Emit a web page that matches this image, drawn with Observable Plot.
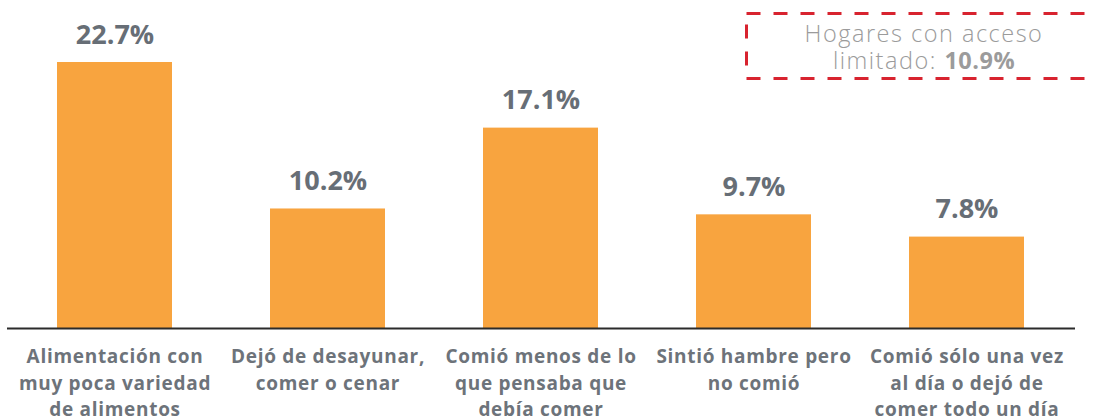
<!DOCTYPE html>
<html><head><meta charset="utf-8">
<script src="https://cdn.jsdelivr.net/npm/d3@7"></script>
<script src="https://cdn.jsdelivr.net/npm/@observablehq/plot@0.6"></script>
<style>
body{margin:0;background:#fff;}
#wrap{position:relative;width:1096px;height:419px;overflow:hidden;font-family:"Open Sans",sans-serif;}
#note{position:absolute;left:745px;top:12px;width:400px;height:68px;}
#note svg{position:absolute;left:0;top:0;}
#note .t{position:absolute;left:0;top:8px;width:358px;text-align:center;color:#9b9b9b;font-size:23.5px;line-height:27px;font-weight:300;letter-spacing:1.5px;}
#note .t b{font-weight:700;letter-spacing:0.5px;}
#wrap svg g[aria-label="x-axis tick label"] text{letter-spacing:0.7px;}
</style></head>
<body><div id="wrap"><div id="note"><svg width="400" height="68"><rect x="1.5" y="1.5" width="420" height="65" fill="none" stroke="#d8232f" stroke-width="3" stroke-dasharray="14 13"/></svg><div class="t"></div></div></div>
<script>
const categories = [
  "Alimentación con\nmuy poca variedad\nde alimentos",
  "Dejó de desayunar,\ncomer o cenar",
  "Comió menos de lo\nque pensaba que\ndebía comer",
  "Sintió hambre pero\nno comió",
  "Comió sólo una vez\nal día o dejó de\ncomer todo un día"
];
const values = [22.7, 10.2, 17.1, 9.7, 7.8];
const noteLabel = ["Hogares con acceso", "limitado:"];
const noteValue = 10.9;

const data = categories.map((c, i) => ({cat: c, v: values[i]}));
const gray = "#676e76";

const chart = Plot.plot({
  width: 1096, height: 419,
  marginLeft: 7, marginRight: 21, marginTop: 62, marginBottom: 91,
  style: {fontFamily: "'Open Sans', sans-serif", background: "transparent"},
  x: {domain: categories, paddingInner: 0.46, paddingOuter: 0.23, label: null},
  y: {domain: [0, 22.7], axis: null},
  marks: [
    Plot.barY(data, {x: "cat", y: "v", fill: "#f8a43f"}),
    Plot.ruleY([0], {stroke: "#2b2b2b", strokeWidth: 2}),
    Plot.text(data, {x: "cat", y: "v", text: d => d.v.toFixed(1) + "%", lineAnchor: "bottom", dy: -19, fontSize: 27, fontWeight: 700, fill: gray}),
    Plot.axisX({tickSize: 0, tickPadding: 16, fontSize: 19, fontWeight: 700, lineHeight: 1.39, fill: "#6d737a", label: null, lineAnchor: "top"})
  ]
});
document.getElementById("wrap").prepend(chart);
document.querySelector("#note .t").innerHTML = noteLabel[0] + "<br>" + noteLabel[1] + " <b>" + noteValue.toFixed(1) + "%</b>";
</script></body></html>
